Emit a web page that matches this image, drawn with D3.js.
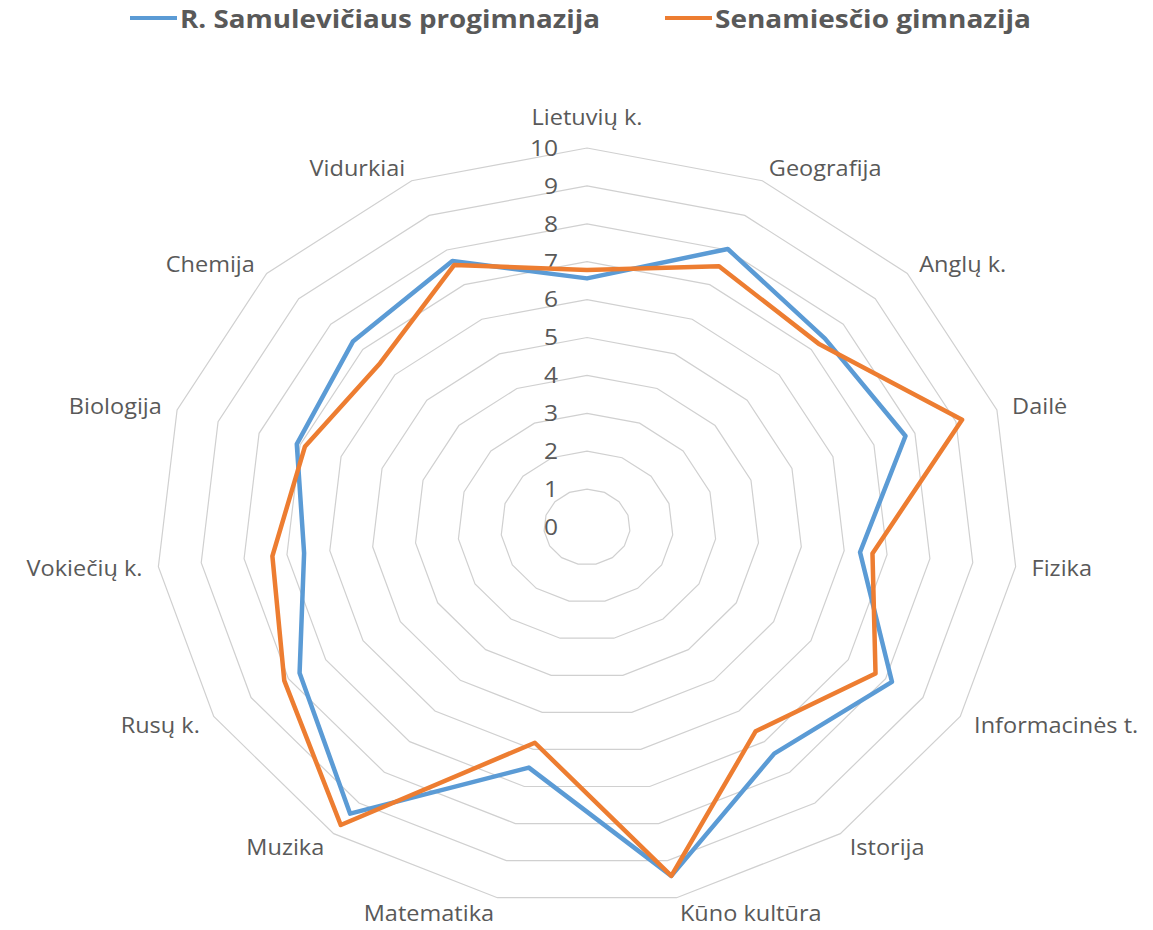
<!DOCTYPE html>
<html>
<head>
  <meta charset="utf-8">
  <title>Radar</title>
  <script src="https://cdn.jsdelivr.net/npm/d3@7"></script>
  <style>
    body { margin: 0; background: #fff; }
    text { font-family: "Open Sans", sans-serif; fill: #595959; }
  </style>
</head>
<body>
  <svg width="1153" height="930" id="mainsvg"></svg>
  <script>
    // data
    const subjects = ['Lietuvių k.', 'Geografija', 'Anglų k.', 'Dailė', 'Fizika', 'Informacinės t.',
      'Istorija', 'Kūno kultūra', 'Matematika', 'Muzika', 'Rusų k.', 'Vokiečių k.',
      'Biologija', 'Chemija', 'Vidurkiai'];
    const samulevicius = [6.56, 8.03, 7.43, 7.77, 6.37, 8.17, 7.39, 9.41, 6.49, 9.35, 7.70, 6.60, 7.08, 7.31, 7.68];
    const senamiestis = [6.78, 7.53, 7.23, 9.15, 6.66, 7.73, 6.66, 9.41, 5.82, 9.72, 8.11, 7.34, 6.88, 6.46, 7.57];
    const ticks = [0, 1, 2, 3, 4, 5, 6, 7, 8, 9, 10];
    const seriesNames = ['R. Samulevičiaus progimnazija', 'Senamiesčio gimnazija'];
    const seriesColors = ['#5b9bd5', '#ed7d31'];

    const svg = d3.select('#mainsvg');
    const cx = 587, cy = 527;
    const stretch = 1.12; // the original is a little wider than tall, text too
    const rx = d3.scaleLinear().domain([0, 10]).range([0, 431]);
    const ry = d3.scaleLinear().domain([0, 10]).range([0, 379]);
    const angle = d3.scaleLinear().domain([0, subjects.length]).range([0, 2 * Math.PI]);
    const px = (i, v) => cx + rx(v) * Math.sin(angle(i));
    const py = (i, v) => cy - ry(v) * Math.cos(angle(i));

    const ring = d3.line().curve(d3.curveLinearClosed);

    // grid rings
    svg.append('g')
      .selectAll('path').data(ticks.filter(t => t > 0)).join('path')
      .attr('d', t => ring(subjects.map((s, i) => [px(i, t), py(i, t)])))
      .attr('fill', 'none')
      .attr('stroke', '#d0d0d0')
      .attr('stroke-width', 1.2);

    // tick labels
    svg.append('g')
      .selectAll('text').data(ticks).join('text')
      .attr('transform', t => `translate(${cx - 29},${cy - ry(t)}) scale(${stretch + 0.05},1)`)
      .attr('text-anchor', 'end')
      .attr('dominant-baseline', 'central')
      .style('font-size', '21px')
      .text(t => t);

    // category labels
    const gap = 16;
    const labelPos = i => {
      const sn = Math.sin(angle(i)), cs = Math.cos(angle(i));
      const x = px(i, 10) + gap * sn;
      let y;
      if (Math.abs(sn) < 0.1) y = py(i, 10) - 31 * cs;
      else y = py(i, 10) - (cs > 0 ? 14 : 16) * cs;
      return [x, y];
    };
    svg.append('g')
      .selectAll('text').data(subjects).join('text')
      .attr('transform', (s, i) => `translate(${labelPos(i)}) scale(${stretch},1)`)
      .attr('text-anchor', (s, i) => {
        const sn = Math.sin(angle(i));
        return sn > 0.1 ? 'start' : (sn < -0.1 ? 'end' : 'middle');
      })
      .attr('dominant-baseline', 'central')
      .style('font-size', '21px')
      .text(s => s);

    // series
    const series = [samulevicius, senamiestis];
    svg.append('g')
      .selectAll('path').data(series).join('path')
      .attr('d', vals => ring(vals.map((v, i) => [px(i, v), py(i, v)])))
      .attr('fill', 'none')
      .attr('stroke', (d, k) => seriesColors[k])
      .attr('stroke-width', 4.5)
      .attr('stroke-linejoin', 'round');

    // legend
    const legendX = [130, 665];
    const legendW = [420, 316];
    const legend = svg.append('g')
      .selectAll('g').data(seriesNames).join('g')
      .attr('transform', (d, k) => `translate(${legendX[k]},18)`);
    legend.append('line')
      .attr('x1', 0).attr('x2', 47).attr('y1', 0).attr('y2', 0)
      .attr('stroke', (d, k) => seriesColors[k])
      .attr('stroke-width', 4);
    legend.append('text')
      .attr('x', 50)
      .attr('dominant-baseline', 'central')
      .attr('textLength', (d, k) => legendW[k])
      .attr('lengthAdjust', 'spacingAndGlyphs')
      .style('font-size', '25px')
      .style('font-weight', 'bold')
      .text(d => d);
  </script>
</body>
</html>
